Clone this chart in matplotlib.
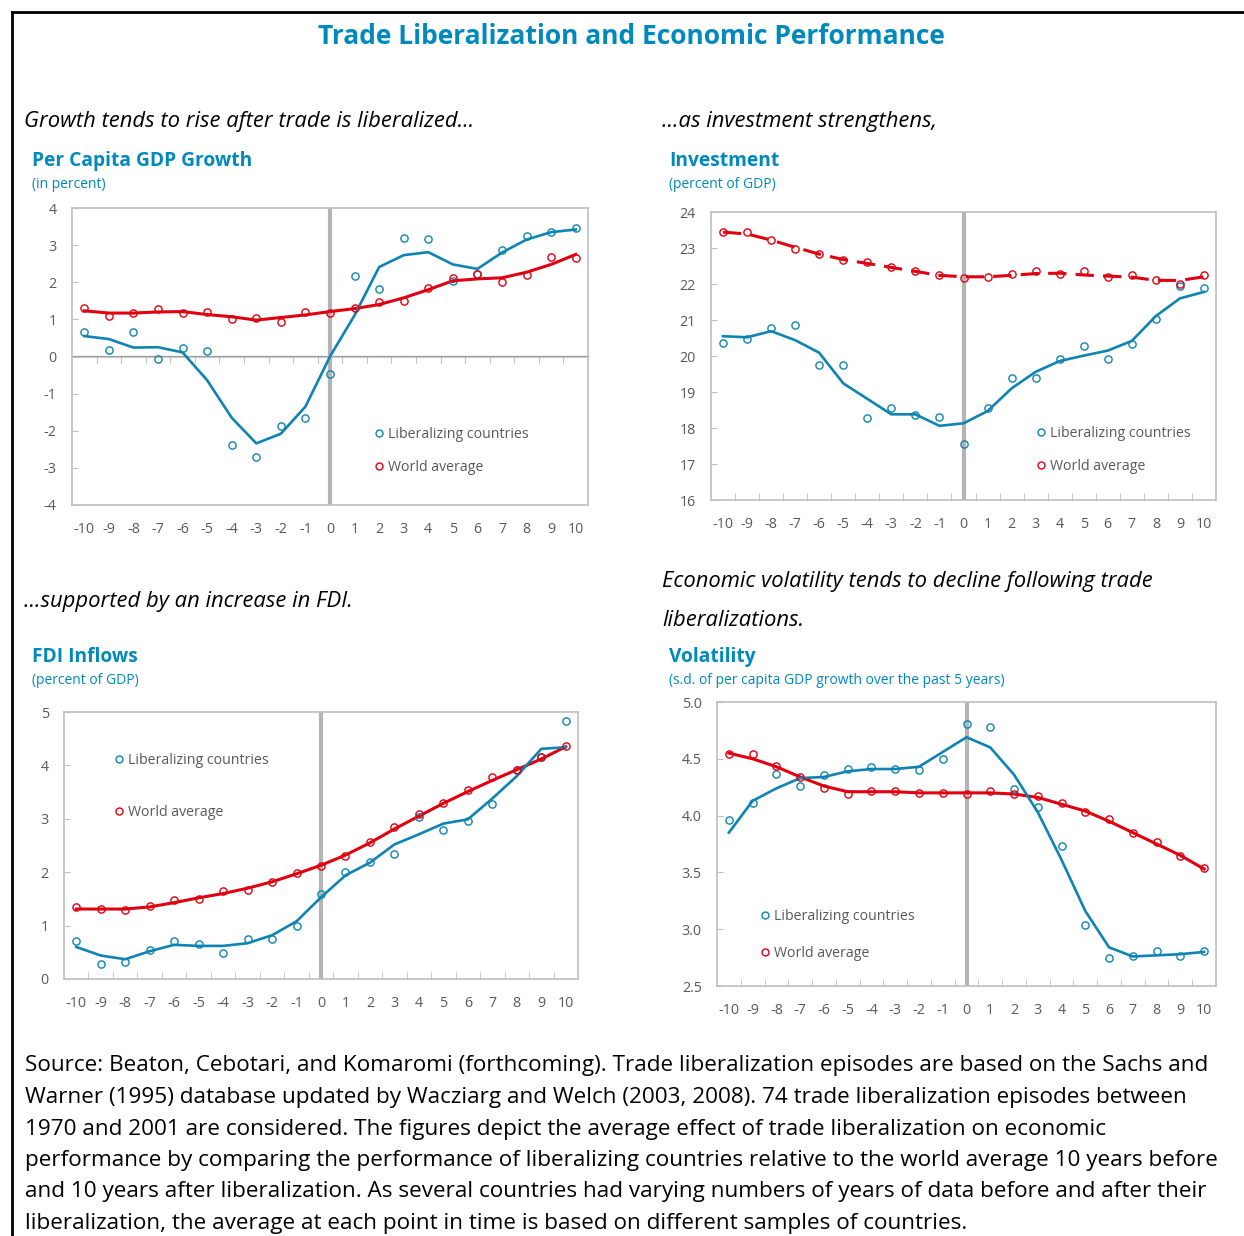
import numpy as np
import matplotlib.pyplot as plt
from matplotlib.lines import Line2D

plt.rcParams['font.family'] = ['Open Sans', 'DejaVu Sans']

W, H = 1244, 1236
years = list(range(-10, 11))

# Per capita GDP growth (in percent)
gdp_lib_pts = [0.66, 0.17, 0.65, -0.08, 0.24, 0.14, -2.39, -2.72, -1.87, -1.66, -0.47,
               2.18, 1.82, 3.19, 3.17, 2.04, 2.21, 2.86, 3.24, 3.36, 3.46]
gdp_lib_trend = [0.55, 0.47, 0.24, 0.25, 0.11, -0.64, -1.65, -2.34, -2.08, -1.35, 0.0,
                 1.11, 2.41, 2.73, 2.81, 2.48, 2.36, 2.80, 3.15, 3.35, 3.42]
gdp_wld_pts = [1.31, 1.08, 1.16, 1.29, 1.18, 1.19, 1.01, 1.03, 0.94, 1.21, 1.16,
               1.31, 1.48, 1.50, 1.85, 2.11, 2.22, 2.02, 2.19, 2.67, 2.66]
gdp_wld_trend = [1.23, 1.17, 1.17, 1.20, 1.21, 1.13, 1.07, 0.98, 1.05, 1.12, 1.21,
                 1.29, 1.40, 1.58, 1.80, 2.04, 2.09, 2.12, 2.27, 2.48, 2.75]

# Investment (percent of GDP)
inv_lib_pts = [20.36, 20.47, 20.78, 20.85, 19.74, 19.74, 18.28, 18.55, 18.37, 18.31, 17.56,
               18.56, 19.40, 19.40, 19.91, 20.28, 19.91, 20.33, 21.04, 21.94, 21.88]
inv_lib_trend = [20.55, 20.52, 20.69, 20.44, 20.09, 19.24, 18.81, 18.38, 18.38, 18.06, 18.13,
                 18.47, 19.10, 19.56, 19.86, 20.01, 20.15, 20.42, 21.11, 21.60, 21.78]
inv_wld_pts = [23.44, 23.45, 23.22, 22.98, 22.83, 22.68, 22.61, 22.48, 22.35, 22.26, 22.18,
               22.19, 22.28, 22.37, 22.27, 22.37, 22.20, 22.24, 22.10, 21.99, 22.25]
inv_wld_trend = [23.44, 23.39, 23.22, 23.02, 22.83, 22.68, 22.57, 22.46, 22.35, 22.24, 22.20,
                 22.20, 22.24, 22.29, 22.30, 22.25, 22.22, 22.19, 22.10, 22.10, 22.20]

# FDI inflows (percent of GDP)
fdi_lib_pts = [0.72, 0.29, 0.32, 0.54, 0.71, 0.65, 0.49, 0.75, 0.75, 1.00, 1.60,
               2.01, 2.20, 2.35, 3.03, 2.79, 2.95, 3.27, 3.91, 4.15, 4.83]
fdi_lib_trend = [0.60, 0.44, 0.37, 0.52, 0.64, 0.62, 0.62, 0.67, 0.82, 1.08, 1.53,
                 1.94, 2.18, 2.52, 2.71, 2.91, 2.99, 3.38, 3.80, 4.31, 4.34]
fdi_wld_pts = [1.35, 1.31, 1.30, 1.36, 1.48, 1.49, 1.65, 1.67, 1.81, 1.99, 2.11,
               2.30, 2.56, 2.85, 3.09, 3.29, 3.54, 3.78, 3.92, 4.15, 4.37]
fdi_wld_trend = [1.31, 1.31, 1.31, 1.35, 1.43, 1.52, 1.60, 1.70, 1.82, 1.97, 2.13,
                 2.32, 2.55, 2.81, 3.05, 3.29, 3.51, 3.72, 3.92, 4.12, 4.35]

# Volatility (s.d. of per capita GDP growth over the past 5 years)
vol_lib_pts = [3.96, 4.11, 4.37, 4.26, 4.36, 4.41, 4.43, 4.41, 4.40, 4.50, 4.81,
               4.78, 4.23, 4.08, 3.73, 3.04, 2.75, 2.76, 2.81, 2.76, 2.81]
vol_lib_trend = [3.85, 4.13, 4.24, 4.33, 4.34, 4.39, 4.41, 4.41, 4.43, 4.56, 4.69,
                 4.60, 4.36, 4.03, 3.61, 3.16, 2.84, 2.76, 2.77, 2.78, 2.80]
vol_wld_pts = [4.54, 4.54, 4.44, 4.34, 4.24, 4.19, 4.22, 4.22, 4.20, 4.20, 4.19,
               4.22, 4.19, 4.17, 4.11, 4.03, 3.97, 3.85, 3.77, 3.64, 3.54]
vol_wld_trend = [4.55, 4.50, 4.43, 4.34, 4.26, 4.21, 4.21, 4.21, 4.20, 4.20, 4.20,
                 4.20, 4.19, 4.16, 4.10, 4.04, 3.95, 3.85, 3.75, 3.65, 3.53]

TEAL = '#0089bd'
BLUE = '#0d84b2'
RED = '#e1000f'
GRID = '#bfbfbf'
TXT = '#595959'


def fx(x):
    return x / W


def fy(y):
    return 1 - y / H


def add_panel(fig, box, lib_pts, lib_trend, wld_pts, wld_trend, ylim, yticks,
              fmt='{:g}', zero_axis=False, dashed=False, leg=None):
    x0, y0, x1, y1 = box
    ax = fig.add_axes([fx(x0), fy(y1), fx(x1 - x0), (y1 - y0) / H])
    ax.set_xlim(-10.5, 10.5)
    ax.set_ylim(*ylim)
    for s in ax.spines.values():
        s.set_color(GRID)
        s.set_linewidth(1.2)
    ax.set_xticks(years)
    ax.set_xticklabels([str(v) for v in years])
    ax.set_yticks(yticks)
    ax.set_yticklabels([fmt.format(v) for v in yticks])
    ax.tick_params(axis='both', length=0, labelsize=10.3, labelcolor=TXT, pad=12)
    ax.tick_params(axis='y', direction='in', length=4, color=GRID, pad=11)
    bounds = np.arange(-9.5, 10.5, 1.0)
    if zero_axis:
        ax.axhline(0, color=GRID, lw=1.2, zorder=1)
        sec = ax.secondary_xaxis((0 - ylim[0]) / (ylim[1] - ylim[0]))
        sec.spines['bottom'].set_visible(False)
        sec.set_xticks(bounds)
        sec.set_xticklabels([])
        sec.tick_params(direction='in', length=5, color=GRID)
    else:
        ax.set_xticks(bounds, minor=True)
        ax.tick_params(axis='x', which='minor', direction='in', length=5, color=GRID)
    ax.axvline(0, color='#b4b4b4', lw=3, zorder=1)

    ls = (0, (6, 3)) if dashed else '-'
    ax.plot(years, wld_trend, color=RED, lw=2.2, ls=ls, zorder=3)
    ax.plot(years, lib_trend, color=BLUE, lw=1.9, zorder=3)
    ax.plot(years, lib_pts, 'o', mfc='none', mec=BLUE, ms=5.2, mew=1, zorder=4)
    ax.plot(years, wld_pts, 'o', mfc='none', mec=RED, ms=5.2, mew=1, zorder=4)

    handles = [Line2D([], [], ls='none', marker='o', mfc='none', mec=BLUE, ms=5, mew=1),
               Line2D([], [], ls='none', marker='o', mfc='none', mec=RED, ms=5, mew=1)]
    lx, ly, sp = leg
    ax.legend(handles, ['Liberalizing countries', 'World average'],
              loc='upper left', bbox_to_anchor=((lx - x0) / (x1 - x0), (y1 - ly) / (y1 - y0)),
              frameon=False, fontsize=10.2, labelcolor=TXT, handletextpad=0.1,
              handlelength=1.0, labelspacing=sp, borderaxespad=0, borderpad=0)
    return ax


fig = plt.figure(figsize=(W / 100, H / 100), dpi=100)

# outer frame
fig.add_artist(Line2D([fx(12), 1], [fy(12), fy(12)], color='black', lw=2))
fig.add_artist(Line2D([fx(12), fx(12)], [fy(12), 0], color='black', lw=2))

fig.text(fx(631), fy(36), 'Trade Liberalization and Economic Performance',
         ha='center', va='center', fontsize=19, fontweight='bold', color=TEAL)

ital = dict(fontsize=15.8, style='italic', color='black', va='center', ha='left')
fig.text(fx(24), fy(121), 'Growth tends to rise after trade is liberalized...', **ital)
fig.text(fx(662), fy(121), '...as investment strengthens,', **ital)
fig.text(fx(24), fy(601), '...supported by an increase in FDI.', **ital)
fig.text(fx(662), fy(581), 'Economic volatility tends to decline following trade', **ital)
fig.text(fx(662), fy(621), 'liberalizations.', **ital)

head = dict(fontsize=13.8, fontweight='bold', color=TEAL, va='center', ha='left')
sub = dict(fontsize=10, color=TEAL, va='center', ha='left')
for (x, y, t, s) in [(32, 161, 'Per Capita GDP Growth', '(in percent)'),
                     (669, 161, 'Investment', '(percent of GDP)'),
                     (32, 657, 'FDI Inflows', '(percent of GDP)'),
                     (669, 657, 'Volatility', '(s.d. of per capita GDP growth over the past 5 years)')]:
    fig.text(fx(x), fy(y), t, **head)
    fig.text(fx(x), fy(y + 23), s, **sub)

add_panel(fig, (72, 208, 588, 505), gdp_lib_pts, gdp_lib_trend, gdp_wld_pts, gdp_wld_trend,
          (-4, 4), range(-4, 5), zero_axis=True, leg=(372, 427, 1.25))
add_panel(fig, (711, 212, 1216, 500), inv_lib_pts, inv_lib_trend, inv_wld_pts, inv_wld_trend,
          (16, 24), range(16, 25), dashed=True, leg=(1034, 426, 1.25))
add_panel(fig, (64, 712, 578, 979), fdi_lib_pts, fdi_lib_trend, fdi_wld_pts, fdi_wld_trend,
          (0, 5), range(0, 6), leg=(112, 753, 2.6))
add_panel(fig, (717, 702, 1216, 986), vol_lib_pts, vol_lib_trend, vol_wld_pts, vol_wld_trend,
          (2.5, 5.0), np.arange(2.5, 5.01, 0.5), fmt='{:.1f}', leg=(758, 909, 1.55))

source = [
    'Source: Beaton, Cebotari, and Komaromi (forthcoming). Trade liberalization episodes are based on the Sachs and',
    'Warner (1995) database updated by Wacziarg and Welch (2003, 2008). 74 trade liberalization episodes between',
    '1970 and 2001 are considered. The figures depict the average effect of trade liberalization on economic',
    'performance by comparing the performance of liberalizing countries relative to the world average 10 years before',
    'and 10 years after liberalization. As several countries had varying numbers of years of data before and after their',
    'liberalization, the average at each point in time is based on different samples of countries.',
]
for i, line in enumerate(source):
    fig.text(fx(25), fy(1066 + 31.5 * i), line, fontsize=16.2, color='black', va='center', ha='left')

fig.savefig('out.png', dpi=100, facecolor='white')
